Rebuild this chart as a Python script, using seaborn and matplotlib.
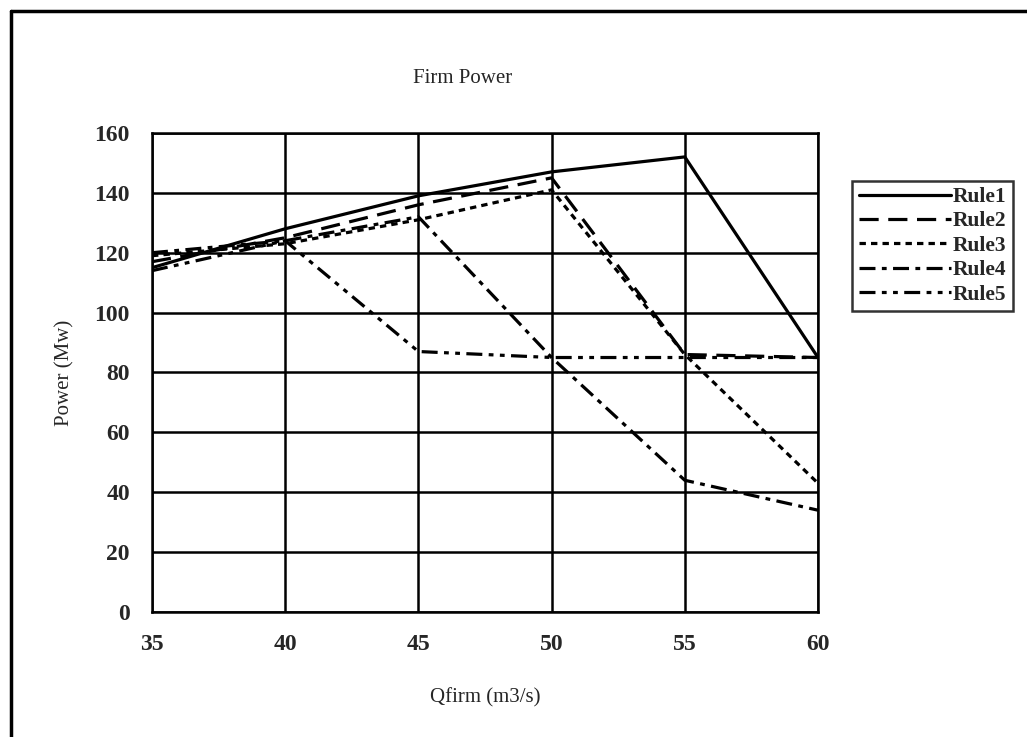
"""
plot.py - Firm power vs. firm discharge for five operating rules.
"""

import matplotlib
matplotlib.use("Agg")
import matplotlib.pyplot as plt
from matplotlib.lines import Line2D
import pandas as pd
import seaborn as sns

#####################################
# Data
#####################################

qfirm = [35, 40, 45, 50, 55, 60]
rule1 = [115, 128, 139, 147, 152, 85]
rule2 = [117, 125, 136, 145, 86, 85]
rule3 = [119, 123, 131, 141, 86, 43]
rule4 = [120, 124, 132, 85, 44, 34]
rule5 = [114, 124, 87, 85, 85, 85]
rule_names = ["Rule1", "Rule2", "Rule3", "Rule4", "Rule5"]

#####################################
# Build the chart
#####################################


def main() -> None:
    sns.set_theme(style="white")
    plt.rcParams["font.family"] = ["Liberation Serif", "DejaVu Serif"]

    frames = []
    for name, vals in zip(rule_names, [rule1, rule2, rule3, rule4, rule5]):
        frames.append(pd.DataFrame({"Qfirm": qfirm, "Power": vals, "Rule": name}))
    data = pd.concat(frames, ignore_index=True)

    dashes = {
        "Rule1": "",
        "Rule2": (6, 3),
        "Rule3": (2, 1.6),
        "Rule4": (5, 2, 1.5, 2),
        "Rule5": (5, 2, 1.5, 2, 1.5, 2),
    }

    fig = plt.figure(figsize=(10.27, 7.37), dpi=100)
    ax = fig.add_axes([0.148, 0.1696, 0.6485, 0.65])

    sns.lineplot(data=data, x="Qfirm", y="Power", style="Rule", dashes=dashes,
                 color="black", linewidth=2.3, ax=ax, legend=False)

    ax.set_xlim(35, 60)
    ax.set_ylim(0, 160)
    ax.set_xticks(qfirm)
    ax.set_yticks(range(0, 161, 20))
    ax.grid(True, color="black", linewidth=1.8)
    for s in ax.spines.values():
        s.set_color("black")
        s.set_linewidth(1.8)
    ax.tick_params(length=0, labelsize=17)
    ax.tick_params(axis="x", pad=16)
    ax.tick_params(axis="y", pad=16)
    for lab in ax.get_xticklabels() + ax.get_yticklabels():
        lab.set_fontweight("bold")

    ax.set_title("Firm Power", fontsize=15, pad=36, x=0.467)
    ax.set_xlabel("Qfirm (m3/s)", fontsize=15, labelpad=24)
    ax.set_ylabel("Power (Mw)", fontsize=15, labelpad=14)

    handles = [Line2D([], [], color="black", linewidth=2.3,
                      dashes=dashes[n] if dashes[n] else (None, None)) for n in rule_names]
    leg = fig.legend(handles, rule_names, loc="upper left",
                     bbox_to_anchor=(0.830, 0.755), frameon=True, fancybox=False,
                     handlelength=4.3, handletextpad=0.05, borderpad=0.3,
                     borderaxespad=0.0, labelspacing=0.2,
                     prop={"size": 15.5, "weight": "bold"})
    leg.get_frame().set_edgecolor("black")
    leg.get_frame().set_linewidth(1.8)

    # outer frame (top and left edges visible in the reference)
    fig.add_artist(Line2D([0.011, 1.0], [0.985, 0.985], color="black", linewidth=2.5))
    fig.add_artist(Line2D([0.011, 0.011], [0.0, 0.985], color="black", linewidth=2.5))

    fig.savefig("out.png", dpi=100)


if __name__ == "__main__":
    main()
